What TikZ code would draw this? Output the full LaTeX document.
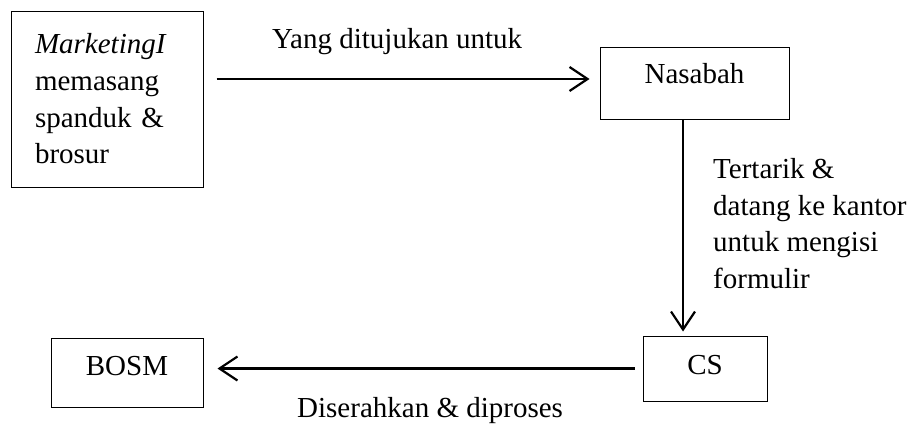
\documentclass[tikz,border=0pt]{standalone}
\usepackage{fontspec}
\setmainfont{Liberation Serif}
\usepackage{tikz}
\usetikzlibrary{calc, positioning, arrows.meta}

\begin{document}
\begin{tikzpicture}[x=1pt, y=-1pt, font=\fontsize{29}{36.7}\selectfont]
    % Mendefinisikan gaya
    \tikzstyle{block} = [rectangle, draw, line width=1pt, inner sep=0pt, align=center, text height=20pt]
    \tikzstyle{textblock} = [rectangle, draw, line width=1pt, text width=144pt, inner xsep=24pt, inner ysep=0pt, align=left, minimum height=176pt]
    \tikzstyle{flowtext} = [inner sep=0pt, anchor=base west]
    \tikzstyle{line} = [draw, line width=2.2pt, -{Straight Barb[length=18pt, width=24pt]}]

    \useasboundingbox (0,0) rectangle (912,423);

    % Kotak-kotak alur
    \node [textblock] (marketing) at (107,99) {\textit{MarketingI}\\ memasang\\ spanduk \&\\ brosur};
    \node [block, minimum width=189pt, minimum height=72pt, text depth=20pt] (nasabah) at (694.5,83) {Nasabah};
    \node [block, minimum width=124pt, minimum height=65pt, text depth=9pt] (cs) at (705,368.5) {CS};
    \node [block, minimum width=152pt, minimum height=69pt, text depth=15pt] (bosm) at (127,372.5) {BOSM};

    % Keterangan pada panah
    \node [flowtext] (ditujukan) at (272,48) {Yang ditujukan untuk};
    \node [flowtext, anchor=north west, align=left] (tertarik) at (713,158) {Tertarik \&\\ datang ke kantor\\ untuk mengisi\\ formulir};
    \node [flowtext] (diserahkan) at (297,417) {Diserahkan \& diproses};

    % Menggambar panah
    \path [line, shorten <=13pt, shorten >=10pt] ([yshift=4pt]nasabah.west -| marketing.east) -- ([yshift=4pt]nasabah.west);
    \path [line, shorten >=4pt] ([xshift=-11.5pt]nasabah.south) -- ([xshift=-11.5pt]nasabah.south |- cs.north);
    \path [line, shorten <=8pt, shorten >=14pt] (cs.west) -- (cs.west -| bosm.east);
\end{tikzpicture}
\end{document}
